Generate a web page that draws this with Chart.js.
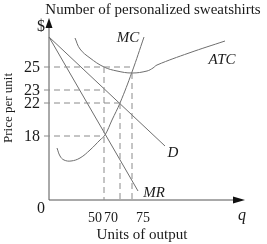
<!DOCTYPE html>
<html>
<head>
<meta charset="utf-8">
<script src="https://cdn.jsdelivr.net/npm/chart.js@4"></script>
<style>
  html, body { margin: 0; padding: 0; background: #fff; }
</style>
</head>
<body>
<canvas id="chart" width="267" height="244"></canvas>
<script>
// the axes are schematic: ticks are not evenly spaced, so every tick has its own spot
// on the drawing scale (units from the origin)
const priceLabels = ['18', '22', '23', '25'];
const priceAt = [64, 97, 110, 133];
const qtyLabels = ['50', '70', '75'];
const qtyAt = [55, 71, 83];
const qtyLabelAt = [46, 62, 94];

// curves in the same drawing units
const demand = [{x: 0, y: 163}, {x: 116, y: 54}];
const margRev = [{x: 0, y: 163}, {x: 89, y: 9}];
const margCost = [
    {x: 8, y: 52}, {x: 11, y: 44}, {x: 15, y: 40}, {x: 22, y: 39}, {x: 31, y: 42},
    {x: 41, y: 50}, {x: 51, y: 60}, {x: 56, y: 65}, {x: 63, y: 80}, {x: 71, y: 97},
    {x: 83, y: 128}, {x: 95, y: 163}
];
const avgCost = [
    {x: 26, y: 162}, {x: 31, y: 151}, {x: 41, y: 142}, {x: 55, y: 133}, {x: 68, y: 129},
    {x: 83, y: 127}, {x: 98, y: 129}, {x: 104, y: 132}, {x: 108, y: 135}, {x: 140, y: 147},
    {x: 176, y: 159}
];

// which price line runs to which quantity line
const guideFrom = ['25', '23', '22', '18'];
const guideTo = ['75', '50', '70', '50'];
const qtyTop = [133, 97, 127];

// axis ends (arrow tips)
const yAxisEnd = 182;
const xAxisEnd = 196;

function curve(data, tension) {
    return {
        data: data,
        showLine: true,
        borderColor: '#6e6e6e',
        borderWidth: 1,
        pointRadius: 0,
        tension: tension,
        clip: false
    };
}

function dashed(data) {
    return {
        data: data,
        showLine: true,
        borderColor: '#8a8a8a',
        borderWidth: 1,
        borderDash: [6, 4],
        pointRadius: 0,
        clip: false
    };
}

let datasets = [];

guideFrom.forEach((p, i) => {
    let py = priceAt[priceLabels.indexOf(p)];
    let qx = qtyAt[qtyLabels.indexOf(guideTo[i])];
    datasets.push(dashed([{x: -5, y: py}, {x: qx, y: py}]));
});
qtyAt.forEach((q, i) => {
    datasets.push(dashed([{x: q, y: qtyTop[i]}, {x: q, y: 0}]));
});

datasets.push(curve(demand, 0));
datasets.push(curve(margRev, 0));
datasets.push(curve(margCost, 0.4));
datasets.push(curve(avgCost, 0.4));

// axes
datasets.push({
    data: [{x: 0, y: 0}, {x: 0, y: yAxisEnd - 6}],
    showLine: true, borderColor: '#555', borderWidth: 1, pointRadius: 0, clip: false
});
datasets.push({
    data: [{x: 0, y: 0}, {x: xAxisEnd - 8, y: 0}],
    showLine: true, borderColor: '#555', borderWidth: 1, pointRadius: 0, clip: false
});

const serif = '"Liberation Serif", "DejaVu Serif", serif';

const textPlugin = {
    id: 'texts',
    afterDraw(chart) {
        const ctx = chart.ctx;
        const xs = chart.scales.x;
        const ys = chart.scales.y;
        const px = v => xs.getPixelForValue(v);
        const py = v => ys.getPixelForValue(v);
        ctx.save();

        // arrow heads
        ctx.fillStyle = '#111';
        let ox = px(0), oy = py(0);
        let ty = py(yAxisEnd), tx = px(xAxisEnd);
        ctx.beginPath();
        ctx.moveTo(ox, ty);
        ctx.lineTo(ox + 3.5, ty + 10);
        ctx.lineTo(ox - 3.5, ty + 10);
        ctx.closePath();
        ctx.fill();
        ctx.beginPath();
        ctx.moveTo(tx, oy);
        ctx.lineTo(tx - 12, oy - 3.5);
        ctx.lineTo(tx - 12, oy + 3.5);
        ctx.closePath();
        ctx.fill();

        ctx.fillStyle = '#1a1a1a';
        ctx.textBaseline = 'alphabetic';

        ctx.font = '15px ' + serif;
        ctx.textAlign = 'center';
        ctx.fillText('Number of personalized sweatshirts', 153, 14);

        ctx.font = '16px ' + serif;
        ctx.textAlign = 'right';
        priceLabels.forEach((t, i) => {
            ctx.fillText(t, xs.left - 9, py(priceAt[i]) + 5);
        });
        ctx.textAlign = 'center';
        ctx.fillText('0', 41, 213);
        ctx.fillText('$', 41, 31);

        ctx.font = '14px ' + serif;
        qtyLabels.forEach((t, i) => {
            ctx.fillText(t, px(qtyLabelAt[i]), 222);
        });

        ctx.font = '15px ' + serif;
        ctx.fillText('Units of output', 142, 239);

        ctx.font = 'italic 16px ' + serif;
        ctx.fillText('q', 242, 220);

        ctx.font = 'italic 15px ' + serif;
        ctx.fillText('MC', 128, 42);
        ctx.fillText('ATC', 222, 64);
        ctx.fillText('D', 173, 157);
        ctx.fillText('MR', 154, 197);

        ctx.font = '13px ' + serif;
        ctx.translate(12, 108);
        ctx.rotate(-Math.PI / 2);
        ctx.fillText('Price per unit', 0, 0);
        ctx.restore();
    }
};

new Chart(document.getElementById('chart').getContext('2d'), {
    type: 'scatter',
    data: {datasets: datasets},
    options: {
        responsive: false,
        animation: false,
        devicePixelRatio: 1,
        layout: {padding: {left: 49, right: 22, top: 18, bottom: 44}},
        plugins: {legend: {display: false}, tooltip: {enabled: false}},
        scales: {
            x: {type: 'linear', min: 0, max: xAxisEnd, display: false},
            y: {type: 'linear', min: 0, max: yAxisEnd, display: false}
        }
    },
    plugins: [textPlugin]
});
</script>
</body>
</html>
